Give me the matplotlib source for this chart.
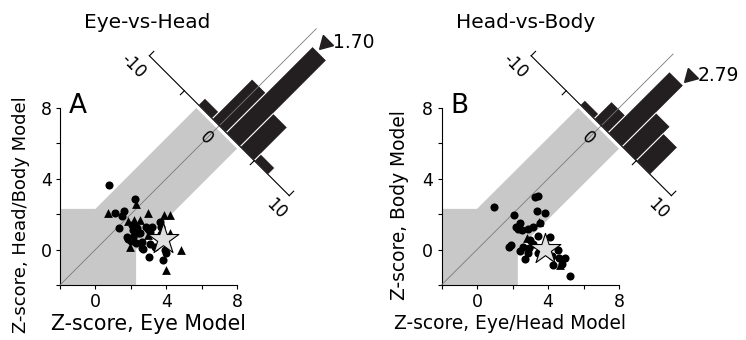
import numpy as np
import matplotlib
matplotlib.use('Agg')
import matplotlib.pyplot as plt
from matplotlib.patches import Polygon

plt.rcParams['font.family'] = ['DejaVu Sans']

# ---- panel A: Eye-vs-Head ----
a_circ_x = [0.75, 2.24, 1.13, 1.62, 1.48, 1.33, 2.05, 2.10, 2.33, 1.77, 2.14, 2.43, 1.86, 2.00,
            2.62, 2.62, 3.08, 2.99, 2.86, 3.18, 3.65, 3.69, 3.03, 3.84, 3.93, 4.00, 2.71, 3.37,
            2.52, 3.10, 2.30, 3.70]
a_circ_y = [3.66, 2.87, 2.05, 2.18, 1.88, 1.22, 1.39, 1.08, 1.20, 0.73, 0.73, 0.92, 0.60, 0.50,
            0.45, 0.07, 0.30, 1.15, 1.29, 1.29, 1.58, 1.26, -0.43, -0.59, 0.00, -0.20, 0.02, 0.16,
            0.92, 1.00, 0.35, 0.90]
a_tri_x = [0.72, 2.30, 1.82, 2.20, 2.50, 2.95, 3.90, 4.20, 4.20, 4.86, 4.00, 1.95, 2.99]
a_tri_y = [2.06, 2.60, 1.63, 1.68, 1.70, 2.08, 1.97, 1.97, 0.96, -0.04, -1.15, 0.16, 0.82]
a_star = (3.84, 0.58)
a_hist = [1, 6, 13, 5, 1]
a_peak = 1.70

# ---- panel B: Head-vs-Body ----
b_circ_x = [0.98, 2.06, 2.44, 2.21, 2.53, 2.85, 3.15, 3.28, 3.43, 3.38, 3.85, 3.56, 3.41, 3.00,
            1.80, 1.92, 2.59, 2.91, 2.85, 2.72, 3.41, 4.13, 4.54, 4.22, 4.60, 4.26, 4.98, 5.25,
            4.79, 3.15, 2.44, 2.30]
b_circ_y = [2.42, 1.95, 1.52, 1.26, 1.11, 1.14, 1.30, 2.95, 3.02, 2.20, 2.07, 1.49, 0.77, 0.53,
            0.16, 0.28, 0.17, 0.07, -0.17, -0.55, -0.20, 0.70, -0.02, -0.36, -0.50, -0.85, -0.45, -1.49,
            -0.80, 0.34, -0.10, 1.15]
b_tri_x = [3.51, 2.80, 4.69]
b_tri_y = [1.55, 0.65, -0.85]
b_star = (3.82, 0.04)
b_hist = [0.7, 2.6, 9.2, 5.1, 4.1]
b_peak = 2.79

hist_edges = [-3, -1, 1, 3, 5, 7]
hist_ticks = [-10, -5, 5, 10]

# geometry of the rotated histogram (in data units of the scatter axes)
BASE = 14.0      # x+y of histogram baseline
STEP = 0.79      # x-y per histogram unit
CNT = 0.75       # x+y per count
GAP = 2.3        # half width of gray band / size of gray box
BAR = '#231f20'


def to_xy(h, v):
    d = STEP * h
    s = BASE + v
    return (s + d) / 2, (s - d) / 2


def draw_panel(ax, cx, cy, tx, ty, star, hist, peak, letter, title, xlabel, ylabel,
               xl_pos, yl_pos, yl_mid, title_x, xl_size, yl_size):
    ax.set_xlim(-2, 8)
    ax.set_ylim(-2, 8)
    for s in ['top', 'right']:
        ax.spines[s].set_visible(False)
    ax.set_xticks([-2, 0, 2, 4, 6, 8])
    ax.set_xticklabels(['', '0', '', '4', '', '8'])
    ax.set_yticks([-2, 0, 2, 4, 6, 8])
    ax.set_yticklabels(['', '0', '', '4', '', '8'])
    ax.tick_params(labelsize=12.5, length=3, width=0.8, pad=3)

    # gray region: box + diagonal band
    end = 13.7
    band = [(-2, -2), (GAP, -2), (GAP, 0), ((end + GAP) / 2, (end - GAP) / 2),
            ((end - GAP) / 2, (end + GAP) / 2), (0, GAP), (-2, GAP)]
    ax.add_patch(Polygon(band, closed=True, facecolor='#c8c8c8', edgecolor='none', zorder=0))

    # histogram bars
    for i, c in enumerate(hist):
        h0, h1 = hist_edges[i], hist_edges[i + 1]
        pts = [to_xy(h0, 0), to_xy(h1, 0), to_xy(h1, c * CNT), to_xy(h0, c * CNT)]
        ax.add_patch(Polygon(pts, closed=True, facecolor=BAR, edgecolor='white',
                             lw=0.7, zorder=3, clip_on=False))

    # diagonal
    top = BASE + max(hist) * CNT + 1.2
    ax.plot([-2, top / 2], [-2, top / 2], color='#7a7a7a', lw=0.6, zorder=4, clip_on=False)

    # histogram axis
    p0, p1 = to_xy(-10, 0), to_xy(10, 0)
    ax.plot([p0[0], p1[0]], [p0[1], p1[1]], color='black', lw=0.8, zorder=5, clip_on=False)
    for t in hist_ticks:
        dv = 0.5 if abs(t) == 10 else -0.45
        q0, q1 = to_xy(t, 0), to_xy(t, dv)
        ax.plot([q0[0], q1[0]], [q0[1], q1[1]], color='black', lw=0.8, zorder=5, clip_on=False)
    for t, lab in [(-10.4, '-10'), (0, '0'), (10, '10')]:
        x, y = to_xy(t, -1.45)
        ax.text(x, y, lab, rotation=-45, ha='center', va='center', fontsize=12,
                zorder=6, clip_on=False)

    # peak arrow
    ar = to_xy(peak, max(hist) * CNT + 0.9)
    ax.plot(ar[0], ar[1], marker=(3, 0, 135), ms=12, color=BAR, zorder=6, clip_on=False)
    ax.text(ar[0] + 0.45, ar[1] + 0.05, '%.2f' % peak, ha='left', va='center', fontsize=13.5,
            clip_on=False)

    # data points
    ax.scatter(cx, cy, s=34, marker='o', color='black', zorder=7, clip_on=False, linewidths=0)
    ax.scatter(tx, ty, s=40, marker='^', color='black', zorder=7, clip_on=False, linewidths=0)
    ax.scatter([star[0]], [star[1]], s=540, marker='*', facecolor='#e0e0e0', edgecolor='black',
               linewidths=0.8, zorder=8, clip_on=False)

    ax.text(-1.5, 8.1, letter, fontsize=19, ha='left', va='center')
    ax.set_xlabel(xlabel, fontsize=xl_size)
    ax.xaxis.set_label_coords(xl_pos, -0.165)
    ax.set_ylabel(ylabel, fontsize=yl_size)
    ax.yaxis.set_label_coords(yl_pos, yl_mid)
    fig.text(title_x, 1 - 22 / 340, title, fontsize=14.5, ha='center', va='center')


fig = plt.figure(figsize=(7.46, 3.4), dpi=100)
axA = fig.add_axes([60 / 746, 55 / 340, 177 / 746, 177 / 340])
axB = fig.add_axes([441.5 / 746, 55 / 340, 177.5 / 746, 177 / 340])

draw_panel(axA, a_circ_x, a_circ_y, a_tri_x, a_tri_y, a_star, a_hist, a_peak, 'A',
           'Eye-vs-Head', 'Z-score, Eye Model', 'Z-score, Head/Body Model', 0.5, -0.17, 0.4,
           147.5 / 746, 14.8, 13)
draw_panel(axB, b_circ_x, b_circ_y, b_tri_x, b_tri_y, b_star, b_hist, b_peak, 'B',
           'Head-vs-Body', 'Z-score, Eye/Head Model', 'Z-score, Body Model', 0.386, -0.185, 0.45,
           525.5 / 746, 13.4, 13.4)

fig.savefig('out.png', dpi=100)
